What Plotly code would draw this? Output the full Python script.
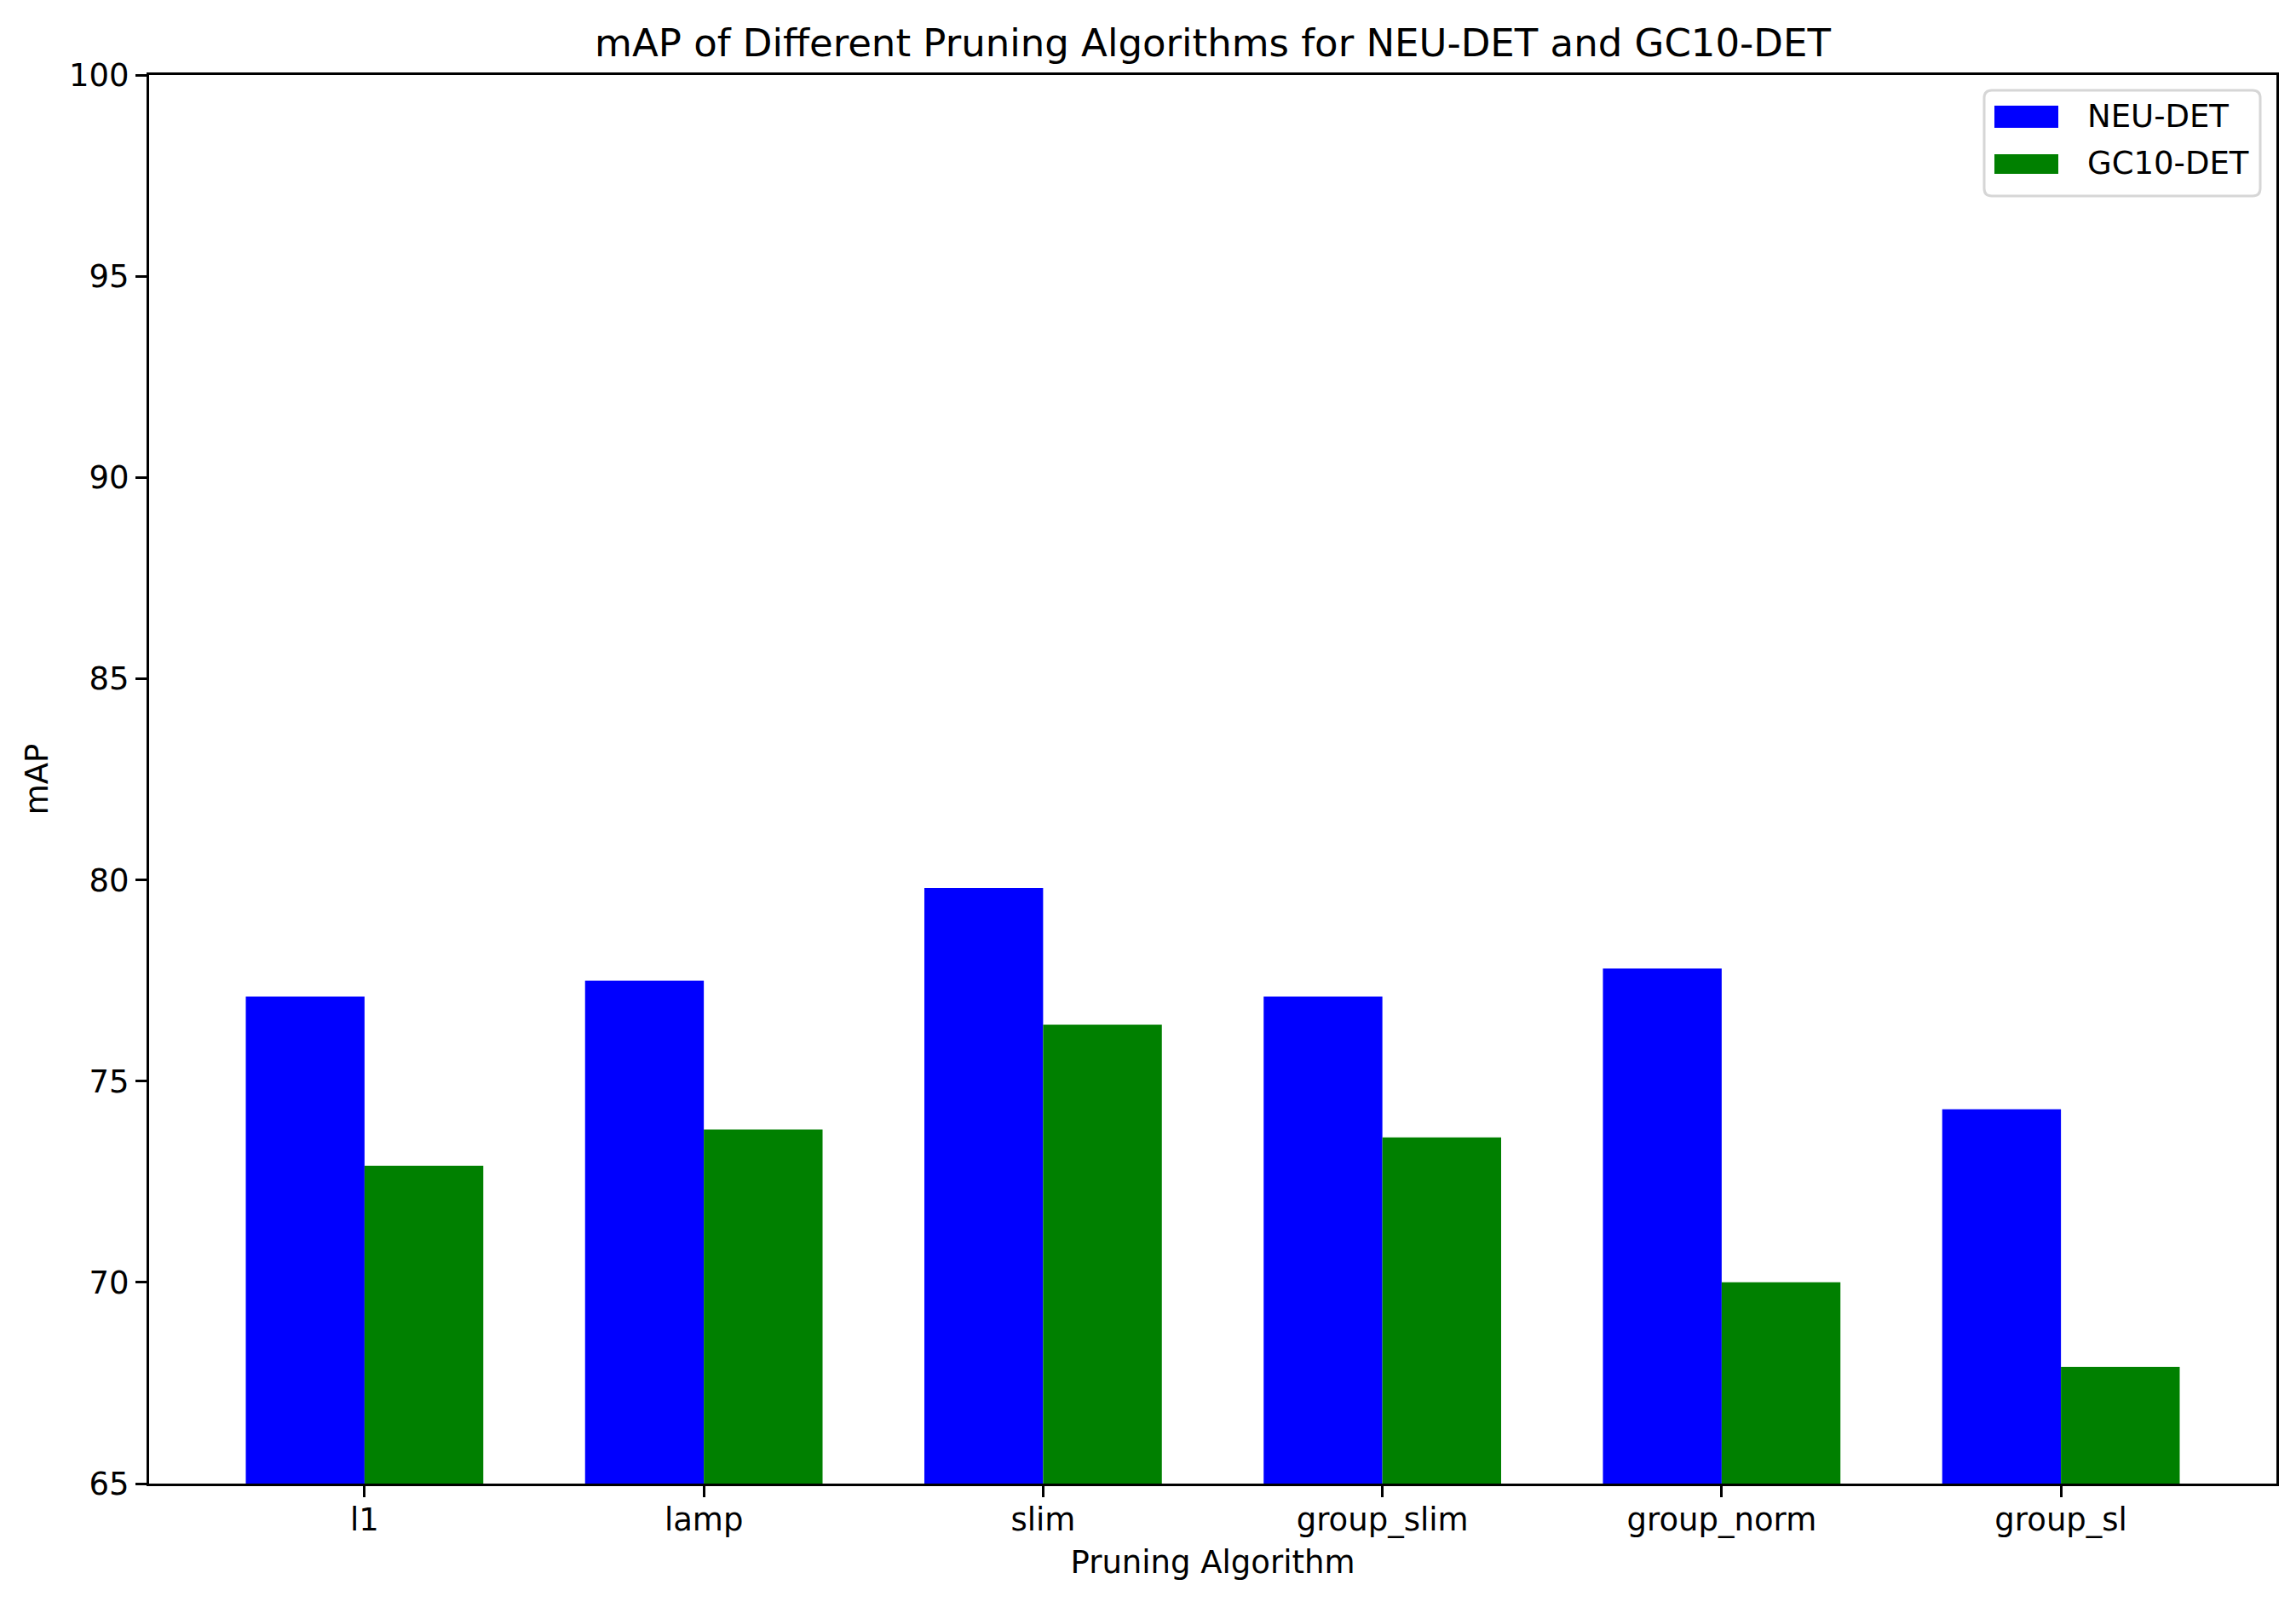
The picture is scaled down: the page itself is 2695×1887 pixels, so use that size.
import plotly.graph_objects as go

categories = ["l1", "lamp", "slim", "group_slim", "group_norm", "group_sl"]
neu_det = [77.1, 77.5, 79.8, 77.1, 77.8, 74.3]
gc10_det = [72.9, 73.8, 76.4, 73.6, 70.0, 67.9]
series_names = ["NEU-DET", "GC10-DET"]
series_colors = ["blue", "green"]
y_ticks = [65, 70, 75, 80, 85, 90, 95, 100]

W, H = 2695, 1887
L, R, T, B = 175, 2672, 88, 1741
OFF = 8  # browser body margin
FONT = "DejaVu Sans"


def px(x):
    return (x - L) / (R - L)


def py(y):
    return (B - y) / (B - T)


fig = go.Figure()
for name, vals, col in zip(series_names, [neu_det, gc10_det], series_colors):
    fig.add_trace(go.Bar(x=categories, y=vals, name=name, marker=dict(color=col, line=dict(width=0)),
                         showlegend=False))

fig.update_layout(
    width=W, height=H,
    margin=dict(l=L - OFF, r=W - R + OFF, t=T - OFF, b=H - B + OFF),
    paper_bgcolor="white", plot_bgcolor="white",
    barmode="group", bargap=0.3, bargroupgap=0,
    font=dict(family=FONT, size=37, color="black"),
    title=dict(text="mAP of Different Pruning Algorithms for NEU-DET and GC10-DET",
               x=px((L + R) / 2), xref="paper", xanchor="center",
               y=1 - (50 - OFF) / H, yref="container", yanchor="middle",
               font=dict(family=FONT, size=45, color="black")),
    xaxis=dict(range=[-0.635, 5.635], showline=True, mirror=True, linecolor="black", linewidth=3,
               ticks="outside", ticklen=13, tickwidth=3, tickcolor="black", showgrid=False,
               ticklabelstandoff=-5,
               title=dict(text="Pruning Algorithm", standoff=16, font=dict(size=37)),
               tickfont=dict(size=37)),
    yaxis=dict(range=[65, 100], tickvals=y_ticks, showline=True, mirror=True, linecolor="black",
               linewidth=3, ticks="outside", ticklen=13, tickwidth=3, tickcolor="black",
               showgrid=False, zeroline=False,
               title=dict(text="mAP", standoff=14, font=dict(size=37)),
               tickfont=dict(size=37)),
)

# legend box (matplotlib-style)
bx0, bx1, by0, by1 = 2329, 2653, 106, 230
r = 9
x0, x1 = px(bx0), px(bx1)
y0, y1 = py(by1), py(by0)
rx = r / (R - L)
ry = r / (B - T)
path = (f"M {x0+rx},{y0} L {x1-rx},{y0} Q {x1},{y0} {x1},{y0+ry} L {x1},{y1-ry} Q {x1},{y1} {x1-rx},{y1} "
        f"L {x0+rx},{y1} Q {x0},{y1} {x0},{y1-ry} L {x0},{y0+ry} Q {x0},{y0} {x0+rx},{y0} Z")
fig.add_shape(type="path", path=path, xref="paper", yref="paper",
              line=dict(color="#d6d6d6", width=3), fillcolor="rgba(255,255,255,0.8)")

handles = [(124, 150, 137), (181, 204, 192)]
for (hy0, hy1, ty), name, col in zip(handles, series_names, series_colors):
    fig.add_shape(type="rect", xref="paper", yref="paper",
                  x0=px(2341), x1=px(2416), y0=py(hy1), y1=py(hy0),
                  fillcolor=col, line=dict(width=0))
    fig.add_annotation(text=name, xref="paper", yref="paper", x=px(2448), y=py(ty),
                       xanchor="left", yanchor="middle", showarrow=False,
                       font=dict(family=FONT, size=37, color="black"))

fig.write_html("out.html")
